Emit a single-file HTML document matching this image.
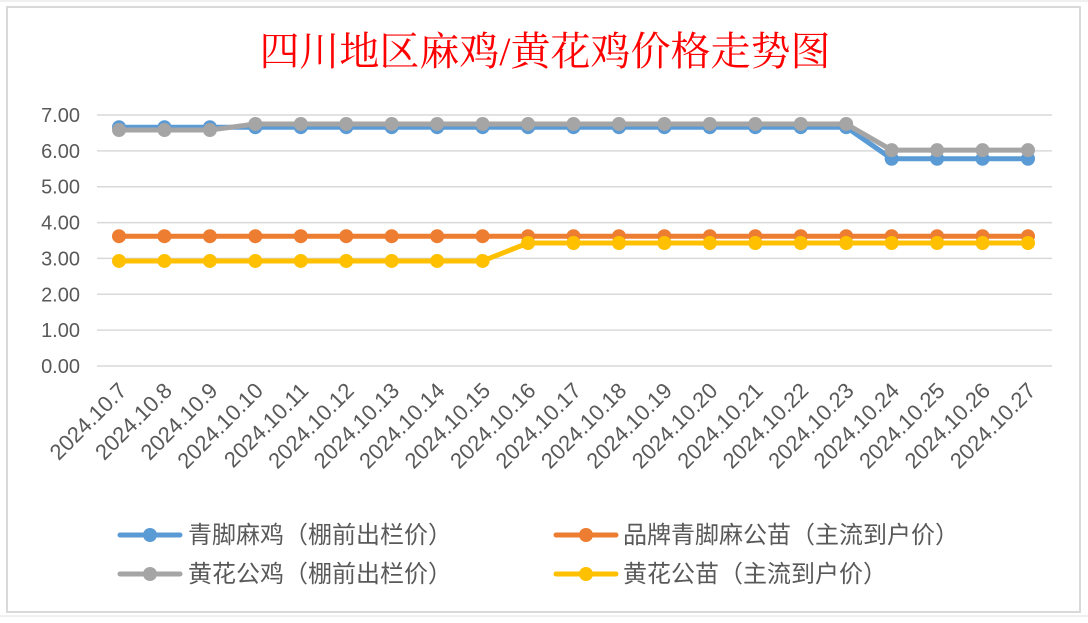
<!DOCTYPE html>
<html><head><meta charset="utf-8">
<style>
body{margin:0;width:1088px;height:618px;background:#fff;overflow:hidden;font-family:"Liberation Sans","Noto Sans CJK SC",sans-serif}
</style></head>
<body>
<svg width="1088" height="618">
<line x1="0" y1="1" x2="1088" y2="1" stroke="#e2e2e2"/>
<line x1="0" y1="616" x2="1088" y2="616" stroke="#e2e2e2"/>
<rect x="7" y="7" width="1073" height="605" fill="#fff" stroke="#d9d9d9" stroke-width="2"/>
<text x="545" y="65" text-anchor="middle" font-size="40" fill="#ff0000" font-family="'Liberation Serif','Noto Serif CJK SC',serif">四川地区麻鸡/黄花鸡价格走势图</text>
<g id="grid"></g><g id="ylab"></g><g id="xlab"></g><g id="series"></g>
<g font-size="24" fill="#595959" font-family="'Liberation Sans','Noto Sans CJK SC',sans-serif">
<g><line x1="120" y1="535" x2="180" y2="535" stroke="#5b9bd5" stroke-width="5" stroke-linecap="round"/><circle cx="150" cy="535" r="7" fill="#5b9bd5"/><text x="188" y="543">青脚麻鸡（棚前出栏价）</text></g>
<g><line x1="120" y1="574" x2="180" y2="574" stroke="#a5a5a5" stroke-width="5" stroke-linecap="round"/><circle cx="150" cy="574" r="7" fill="#a5a5a5"/><text x="188" y="582">黄花公鸡（棚前出栏价）</text></g>
<g><line x1="556" y1="535" x2="616" y2="535" stroke="#ed7d31" stroke-width="5" stroke-linecap="round"/><circle cx="586" cy="535" r="7" fill="#ed7d31"/><text x="623" y="543">品牌青脚麻公苗（主流到户价）</text></g>
<g><line x1="556" y1="574" x2="616" y2="574" stroke="#ffc000" stroke-width="5" stroke-linecap="round"/><circle cx="586" cy="574" r="7" fill="#ffc000"/><text x="623" y="582">黄花公苗（主流到户价）</text></g>
</g>
</svg>
<script>
const categories=["2024.10.7","2024.10.8","2024.10.9","2024.10.10","2024.10.11","2024.10.12","2024.10.13","2024.10.14","2024.10.15","2024.10.16","2024.10.17","2024.10.18","2024.10.19","2024.10.20","2024.10.21","2024.10.22","2024.10.23","2024.10.24","2024.10.25","2024.10.26","2024.10.27"];
const blueVals=[6.66,6.66,6.66,6.66,6.66,6.66,6.66,6.66,6.66,6.66,6.66,6.66,6.66,6.66,6.66,6.66,6.66,5.78,5.78,5.78,5.78];
const orangeVals=[3.62,3.62,3.62,3.62,3.62,3.62,3.62,3.62,3.62,3.62,3.62,3.62,3.62,3.62,3.62,3.62,3.62,3.62,3.62,3.62,3.62];
const grayVals=[6.58,6.58,6.58,6.75,6.75,6.75,6.75,6.75,6.75,6.75,6.75,6.75,6.75,6.75,6.75,6.75,6.75,6.02,6.02,6.02,6.02];
const yellowVals=[2.93,2.93,2.93,2.93,2.93,2.93,2.93,2.93,2.93,3.43,3.43,3.43,3.43,3.43,3.43,3.43,3.43,3.43,3.43,3.43,3.43];
const yTicks=[0,1,2,3,4,5,6,7];
const NS="http://www.w3.org/2000/svg";
const y=v=>366-v*(366-115)/7;
const x=i=>119+i*(1028-119)/(categories.length-1);
function mk(t,a,p){const e=document.createElementNS(NS,t);for(const k in a)e.setAttribute(k,a[k]);p.appendChild(e);return e;}
const grid=document.getElementById('grid'),ylab=document.getElementById('ylab'),xlab=document.getElementById('xlab'),ser=document.getElementById('series');
yTicks.forEach(v=>{
 const l=mk('line',{x1:97,x2:1052,y1:y(v),y2:y(v),stroke:'#d9d9d9','stroke-width':1.5},grid);
 
 
 const t=mk('text',{x:80,y:y(v)+7,'text-anchor':'end','font-size':20,fill:'#595959'},ylab);
 t.textContent=v.toFixed(2);
 
 
});
categories.forEach((c,i)=>{
 const t=mk('text',{x:0,y:0,'text-anchor':'end','font-size':22,fill:'#595959',transform:`translate(${x(i)+9},${392}) rotate(-45)`},xlab);
 t.textContent=c;
 
 
});
[[blueVals,'#5b9bd5','series-qingjiao-maji'],[orangeVals,'#ed7d31','series-brand-gongmiao'],[grayVals,'#a5a5a5','series-huanghua-gongji'],[yellowVals,'#ffc000','series-huanghua-gongmiao']].forEach(([vals,col,name])=>{
 const g=mk('g',{},ser);
 
 
 const p=mk('polyline',{points:vals.map((v,i)=>x(i)+','+y(v)).join(' '),fill:'none',stroke:col,'stroke-width':5,'stroke-linejoin':'round'},g);
 
 
 vals.forEach((v,i)=>{
  const c=mk('circle',{cx:x(i),cy:y(v),r:7,fill:col},g);
  
  
 });
});
</script>
</body></html>
